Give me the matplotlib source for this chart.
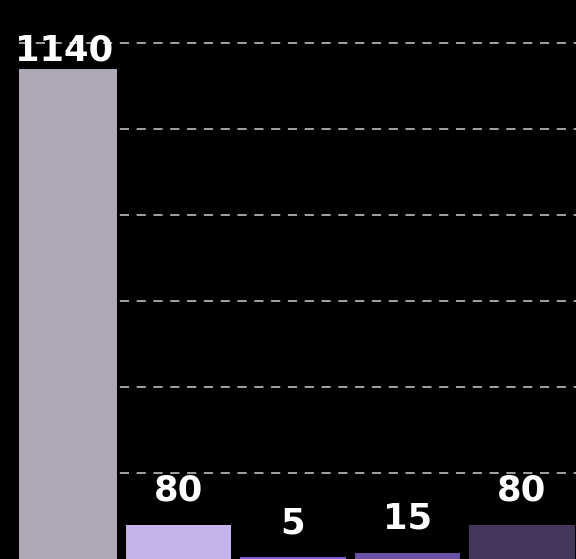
import matplotlib
matplotlib.use("Agg")
import matplotlib.pyplot as plt

categories = ["A", "B", "C", "D", "E"]
values = [1140, 80, 5, 15, 80]
labels = ["1140", "80", "5", "15", "80"]
colors = ["#aea8b6", "#c5b3ec", "#7e5cc8", "#6a50a7", "#44375c"]

W, H, DPI = 576, 559, 100
fig = plt.figure(figsize=(W / DPI, H / DPI), dpi=DPI, facecolor="black")
ax = fig.add_axes([19 / W, 0, (W - 19) / W, 1])
ax.set_facecolor("black")

x = list(range(len(categories)))
ax.bar(x, values, width=0.92, color=colors, zorder=2)

ax.set_ylim(0, 1300)
ax.set_xlim(-0.393, 4.472)
ax.set_yticks([200, 400, 600, 800, 1000, 1200])
ax.yaxis.grid(True, color="#cfcfcf", linestyle=(0, (6, 5)), linewidth=1.1, zorder=1)
ax.set_axisbelow(True)
ax.tick_params(left=False, bottom=False, labelleft=False, labelbottom=False)
for s in ax.spines.values():
    s.set_visible(False)

for xi, v, lab in zip(x, values, labels):
    y = min(v + 55, 1160)
    ax.text(xi, y, lab, ha="center", va="baseline", color="white",
            fontsize=25.5, fontweight="bold", family=["DejaVu Sans"],
            zorder=3)

fig.savefig("out.png", dpi=DPI, facecolor="black")
